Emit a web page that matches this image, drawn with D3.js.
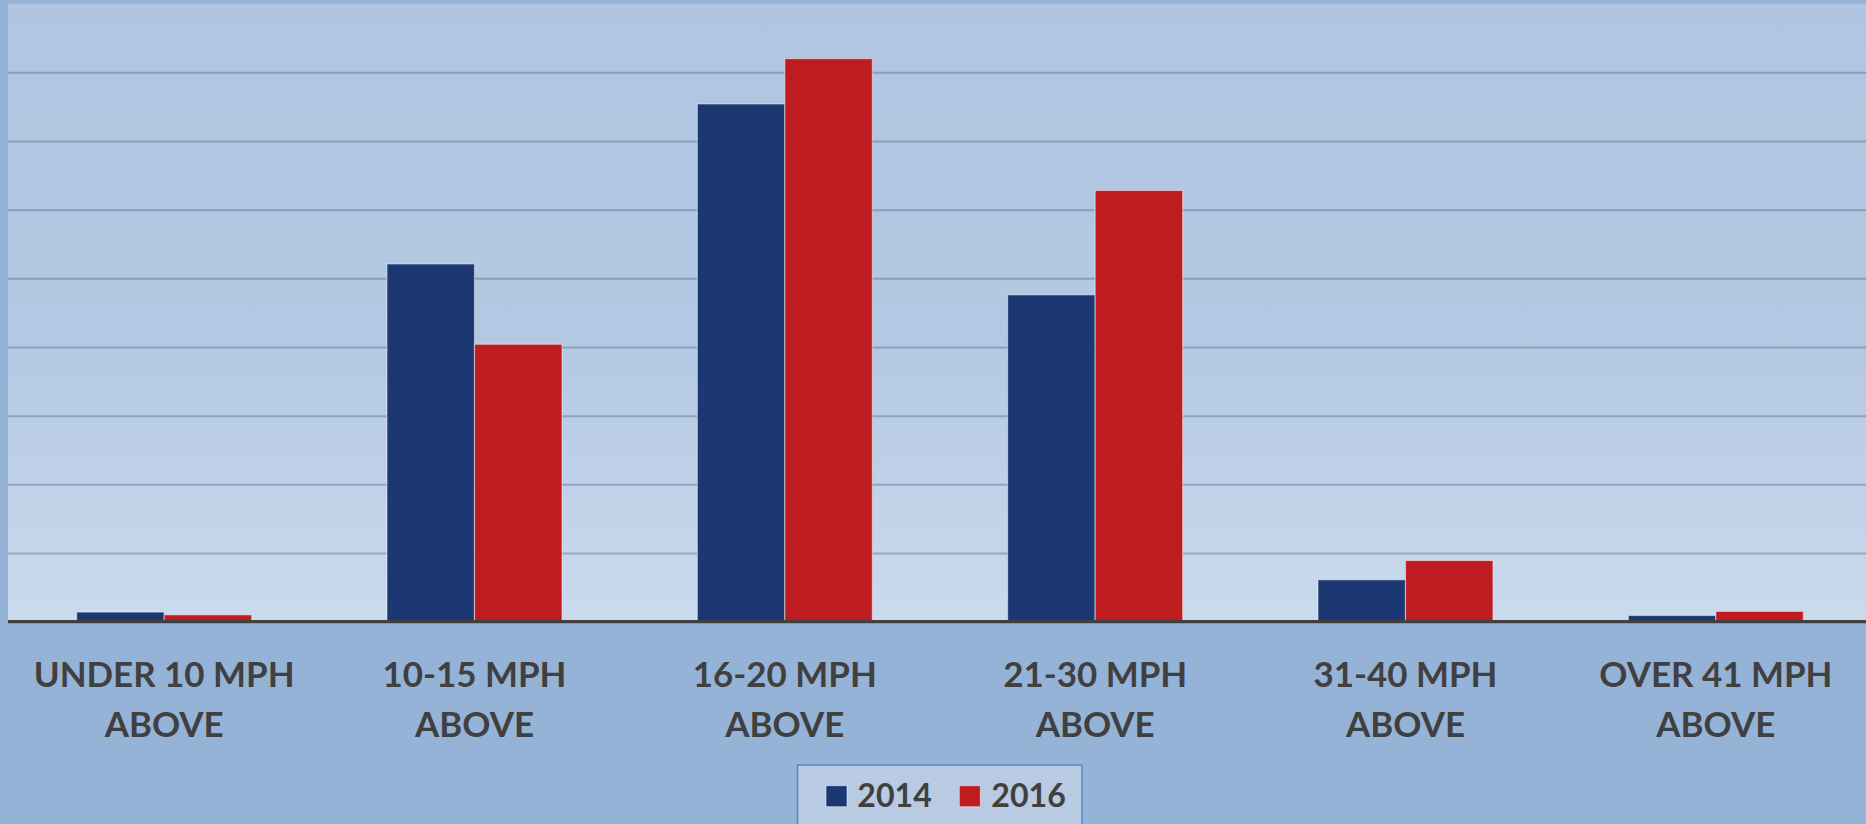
<!DOCTYPE html>
<html>
<head>
<meta charset="utf-8">
<script src="https://cdn.jsdelivr.net/npm/d3@7"></script>
<style>
  html, body { margin: 0; padding: 0; background: #95b3d7; }
  svg { display: block; }
  text { font-family: Lato, "Open Sans", sans-serif; font-weight: 700; fill: #404040; }
</style>
</head>
<body>
<svg id="chart" width="1866" height="824"></svg>
<script>
// ---- data ----
const categories = [
  ["UNDER 10 MPH", "ABOVE"],
  ["10-15 MPH", "ABOVE"],
  ["16-20 MPH", "ABOVE"],
  ["21-30 MPH", "ABOVE"],
  ["31-40 MPH", "ABOVE"],
  ["OVER 41 MPH", "ABOVE"]
];
const seriesNames = ["2014", "2016"];
const values2014 = [14, 521, 754, 476, 61, 9];
const values2016 = [10, 404, 820, 628, 89, 15];
const yTicks = [0, 100, 200, 300, 400, 500, 600, 700, 800, 900];

const colors = {"2014": "#1b3873", "2016": "#bf1c21"};

const W = 1866, H = 824;
const plot = {left: 9, right: 1871, top: 3.7, bottom: 621.7};

const svg = d3.select("#chart");

const defs = svg.append("defs");
const grad = defs.append("linearGradient").attr("id", "plotGrad")
  .attr("x1", 0).attr("y1", 0).attr("x2", 0).attr("y2", 1);
grad.append("stop").attr("offset", "0%").attr("stop-color", "#b0c5e1");
grad.append("stop").attr("offset", "55%").attr("stop-color", "#b3c8e3");
grad.append("stop").attr("offset", "100%").attr("stop-color", "#cbdaed");

svg.append("rect").attr("x", 0).attr("y", 0).attr("width", W).attr("height", H).attr("fill", "#95b3d7");
svg.append("rect").attr("x", 8).attr("y", plot.top)
  .attr("width", W - 8).attr("height", plot.bottom - plot.top)
  .attr("fill", "url(#plotGrad)");

const x = d3.scaleBand()
  .domain(d3.range(categories.length))
  .range([plot.left, plot.right])
  .paddingInner(0.436)
  .paddingOuter(0.218);

const xs = d3.scaleBand().domain(seriesNames).range([0, x.bandwidth()]).padding(0);

const y = d3.scaleLinear().domain([0, 900]).range([plot.bottom, plot.top]);

// gridlines via axis
const grid = svg.append("g")
  .attr("transform", `translate(8,0)`)
  .call(d3.axisLeft(y).tickValues(yTicks.filter(t => t > 0 && t < 900)).tickSize(-(W - 8)).tickFormat(""));
grid.select(".domain").remove();
grid.selectAll(".tick line").attr("stroke", "rgba(80,92,115,0.38)").attr("stroke-width", 2);

// bars
const rows = categories.map((c, i) => ({i, v: {"2014": values2014[i], "2016": values2016[i]}}));
const g = svg.append("g");
rows.forEach(r => {
  seriesNames.forEach(s => {
    g.append("rect")
      .attr("x", x(r.i) + xs(s))
      .attr("y", y(r.v[s]))
      .attr("width", xs.bandwidth())
      .attr("height", y(0) - y(r.v[s]))
      .attr("fill", colors[s])
      .attr("stroke", "rgba(255,255,255,0.45)")
      .attr("stroke-width", 1.2);
  });
});

// baseline axis
const xAxis = svg.append("g")
  .attr("transform", `translate(0,${y(0)})`)
  .call(d3.axisBottom(x).tickSize(0).tickFormat(""));
xAxis.select(".domain").attr("stroke", "#404040").attr("stroke-width", 3.2)
  .attr("d", `M8,0H${W}`);

// category labels (font sized by cap height, compressed horizontally to match width)
const labels = svg.append("g");
const labelSize = 34.5;
const probe = labels.append("text").attr("font-size", labelSize).text(categories[0][0]);
const wNat = probe.node().getComputedTextLength();
probe.remove();
const sx = 261 / wNat;
categories.forEach((c, i) => {
  const cx = x(i) + x.bandwidth() / 2;
  const t = labels.append("text")
    .attr("text-anchor", "middle")
    .attr("font-size", labelSize)
    .attr("transform", `translate(${cx},0) scale(${sx},1)`);
  t.append("tspan").attr("x", 0).attr("y", 686.7).text(c[0]);
  t.append("tspan").attr("x", 0).attr("y", 736.7).text(c[1]);
});

// legend
const lg = svg.append("g");
lg.append("rect").attr("x", 797.5).attr("y", 765).attr("width", 284.5).attr("height", 70)
  .attr("fill", "#b8cbe3").attr("stroke", "#5a87c5").attr("stroke-width", 1.5);
const legendSize = 32;
const probe2 = lg.append("text").attr("font-size", legendSize).text("2014");
const w2 = probe2.node().getComputedTextLength();
probe2.remove();
const lsx = 74.5 / w2;
const legendItems = [
  {name: seriesNames[0], sx: 826, tx: 857.3},
  {name: seriesNames[1], sx: 959.3, tx: 991.3}
];
legendItems.forEach(it => {
  lg.append("rect").attr("x", it.sx).attr("y", 785.7).attr("width", 21).attr("height", 21)
    .attr("fill", colors[it.name]).attr("stroke", "rgba(255,255,255,0.5)").attr("stroke-width", 1);
  lg.append("text").attr("transform", `translate(${it.tx},806.7) scale(${lsx},1)`)
    .attr("font-size", legendSize).text(it.name);
});
</script>
</body>
</html>
